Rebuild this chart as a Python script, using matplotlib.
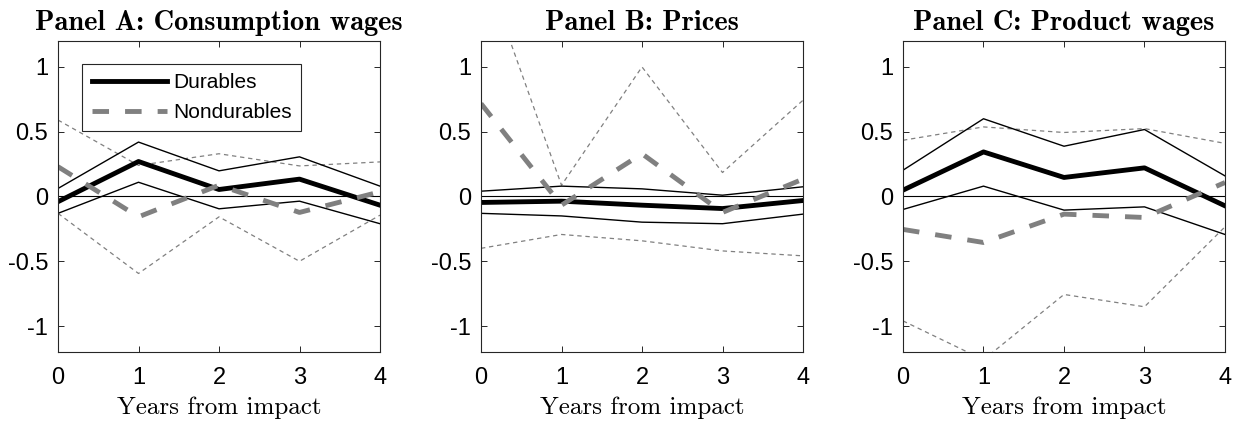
import numpy as np
import matplotlib.pyplot as plt

# Years from impact
years = [0, 1, 2, 3, 4]

# Panel A: consumption wages
a_dur = [-0.04, 0.27, 0.054, 0.134, -0.067]
a_dur_hi = [0.062, 0.42, 0.198, 0.306, 0.08]
a_dur_lo = [-0.13, 0.11, -0.095, -0.036, -0.21]
a_non = [0.23, -0.157, 0.087, -0.123, 0.036]
a_non_hi = [0.59, 0.24, 0.33, 0.236, 0.267]
a_non_lo = [-0.13, -0.594, -0.157, -0.50, -0.144]

# Panel B: prices
b_dur = [-0.046, -0.036, -0.067, -0.093, -0.031]
b_dur_hi = [0.041, 0.08, 0.059, 0.01, 0.075]
b_dur_lo = [-0.13, -0.15, -0.198, -0.21, -0.136]
b_non = [0.717, -0.067, 0.33, -0.123, 0.134]
b_non_hi = [1.83, 0.087, 1.0, 0.185, 0.743]
b_non_lo = [-0.40, -0.293, -0.342, -0.42, -0.458]

# Panel C: product wages
c_dur = [0.049, 0.344, 0.147, 0.221, -0.072]
c_dur_hi = [0.203, 0.60, 0.388, 0.517, 0.159]
c_dur_lo = [-0.10, 0.08, -0.105, -0.08, -0.293]
c_non = [-0.254, -0.355, -0.136, -0.162, 0.108]
c_non_hi = [0.434, 0.537, 0.494, 0.524, 0.41]
c_non_lo = [-0.96, -1.26, -0.756, -0.851, -0.234]

titles = ['Panel A: Consumption wages', 'Panel B: Prices', 'Panel C: Product wages']
yticks = [-1, -0.5, 0, 0.5, 1]
ytick_labels = ['-1', '-0.5', '0', '0.5', '1']

panels = [
    (a_dur, a_dur_hi, a_dur_lo, a_non, a_non_hi, a_non_lo),
    (b_dur, b_dur_hi, b_dur_lo, b_non, b_non_hi, b_non_lo),
    (c_dur, c_dur_hi, c_dur_lo, c_non, c_non_hi, c_non_lo),
]

W, H = 1239, 423
fig = plt.figure(figsize=(W / 100, H / 100), dpi=100)
lefts = [58, 481, 903]
ax_w, top, bottom = 322, 41, 352

grey = '#808080'
for i, (dur, dhi, dlo, non, nhi, nlo) in enumerate(panels):
    ax = fig.add_axes([lefts[i] / W, 1 - bottom / H, ax_w / W, (bottom - top) / H])
    ax.axhline(0, color='black', lw=0.8)
    ax.plot(years, nhi, color=grey, lw=0.9, ls=(0, (3.5, 3)))
    ax.plot(years, nlo, color=grey, lw=0.9, ls=(0, (3.5, 3)))
    ax.plot(years, dhi, color='black', lw=1.0)
    ax.plot(years, dlo, color='black', lw=1.0)
    l1, = ax.plot(years, dur, color='black', lw=3.5, label='Durables')
    l2, = ax.plot(years, non, color=grey, lw=3.5, ls=(0, (3.4, 3.3)), label='Nondurables')
    ax.set_xlim(0, 4)
    ax.set_ylim(-1.2, 1.2)
    ax.set_xticks(years)
    ax.set_xticklabels([str(y) for y in years], fontfamily='Liberation Sans', fontsize=17)
    ax.set_yticks(yticks)
    ax.set_yticklabels(ytick_labels, fontfamily='Liberation Sans', fontsize=17)
    ax.tick_params(direction='in', top=True, right=True, length=4, width=0.7, color='#262626')
    ax.tick_params(axis='x', pad=11)
    ax.tick_params(axis='y', pad=7)
    for s in ax.spines.values():
        s.set_color('#262626')
        s.set_linewidth(0.8)
    ax.set_title(titles[i], fontfamily='cmb10', fontsize=20.5, pad=8)
    ax.set_xlabel('Years from impact', fontfamily='cmr10', fontsize=18, labelpad=5)
    if i == 0:
        leg = ax.legend(handles=[l1, l2], loc='upper left', bbox_to_anchor=(0.075, 0.926),
                        prop={'family': 'Liberation Sans', 'size': 15}, fancybox=False,
                        edgecolor='#262626', framealpha=1, handlelength=3.6,
                        borderpad=0.45, labelspacing=0.5, handletextpad=0.3,
                        borderaxespad=0)
        leg.get_frame().set_linewidth(0.8)

fig.savefig('out.png', dpi=100)
